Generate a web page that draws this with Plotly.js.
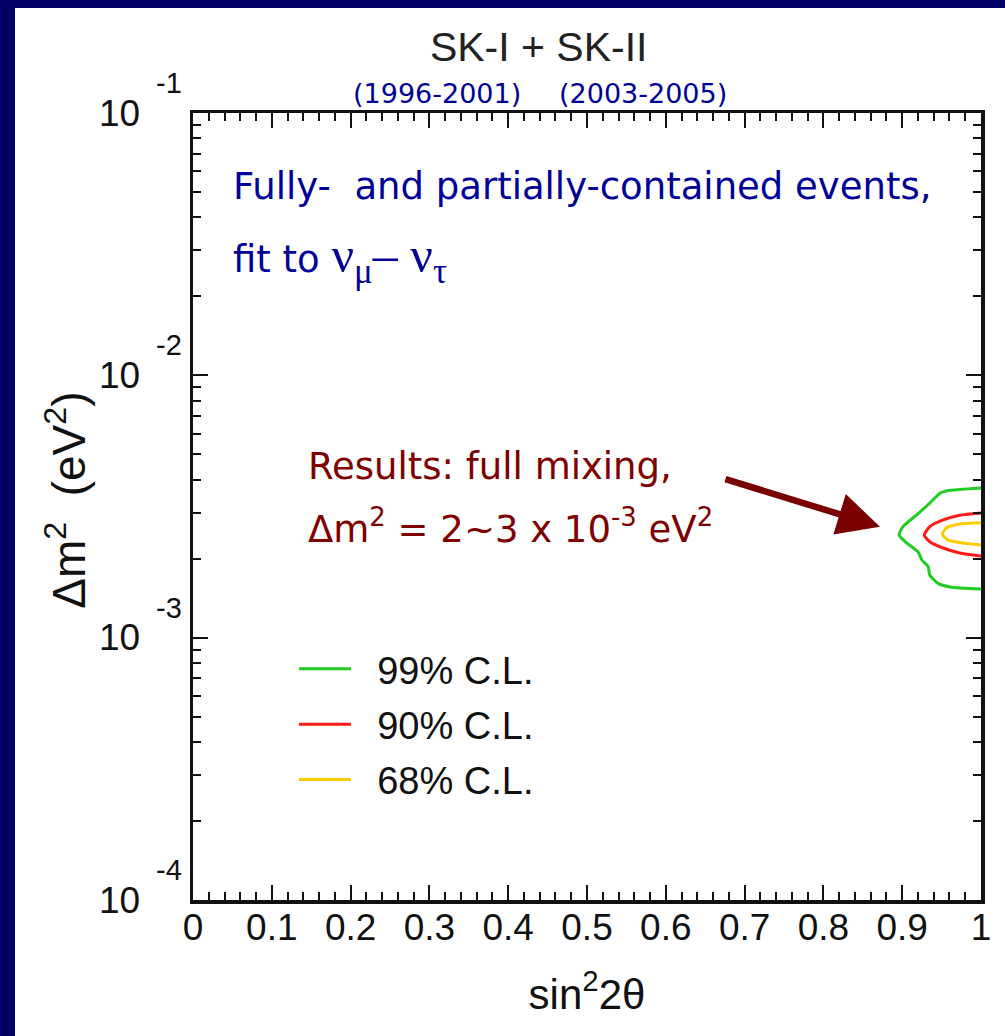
<!DOCTYPE html>
<html>
<head>
<meta charset="utf-8">
<script src="https://cdn.plot.ly/plotly-3.0.1.min.js"></script>
<style>
  html, body { margin: 0; padding: 0; background: #000066; width: 1005px; height: 1036px; overflow: hidden; }
  #chart { position: absolute; left: 15px; top: 8px; width: 990px; height: 1028px; background: #ffffff; }
</style>
</head>
<body>
<div id="chart"></div>
<script>
// ---- data ----
const cl99_x = [1.000, 0.957, 0.948, 0.935, 0.918, 0.901, 0.896, 0.904, 0.920, 0.925, 0.933, 0.935, 0.945, 0.961, 1.000];
const cl99_y = [0.00372, 0.00363, 0.00355, 0.00326, 0.00293, 0.00265, 0.00246, 0.00232, 0.002126, 0.001977, 0.001864, 0.001733, 0.001614, 0.00156, 0.001532];

const cl90_x = [1.000, 0.973, 0.952, 0.935, 0.928, 0.935, 0.952, 0.973, 1.000];
const cl90_y = [0.00299, 0.00293, 0.00281, 0.00265, 0.00246, 0.00232, 0.002197, 0.002102, 0.002047];

const cl68_x = [1.000, 0.973, 0.956, 0.951, 0.958, 0.977, 1.000];
const cl68_y = [0.00274, 0.00271, 0.00262, 0.00248, 0.002355, 0.002294, 0.002254];

const seriesNames = ["99% C.L.", "90% C.L.", "68% C.L."];
const seriesColors = ["#22cc22", "#ff1a1a", "#ffcc00"];

const xTickVals = [0, 0.1, 0.2, 0.3, 0.4, 0.5, 0.6, 0.7, 0.8, 0.9, 1];
const xTickText = ["0", "0.1", "0.2", "0.3", "0.4", "0.5", "0.6", "0.7", "0.8", "0.9", "1"];
const yTickExps = [-4, -3, -2, -1];

const titleText = "SK-I + SK-II";
const periodTexts = ["(1996-2001)", "(2003-2005)"];
const periodX = [0.3096, 0.571];
const noteLines = ["Fully-&nbsp; and partially-contained events,",
  "fit to <span style=\"font-family:'Liberation Serif';font-size:50px\">ν<sub>μ</sub>– ν<sub>τ</sub></span>"];
const resultLines = ["Results: full mixing,", "Δm<sup>2</sup> = 2~3 x 10<sup>-3</sup> eV<sup>2</sup>"];
const arrowTarget = { x: 0.8718, logy: -2.577 };

// ---- traces ----
const xs = [cl99_x, cl90_x, cl68_x];
const ys = [cl99_y, cl90_y, cl68_y];
const traces = xs.map((x, i) => ({
  type: "scatter", mode: "lines", x: x, y: ys[i],
  name: "&nbsp;&nbsp;" + seriesNames[i], legendgroup: "g" + i,
  line: { color: seriesColors[i], width: 3, shape: "spline", smoothing: 0.6 },
  hoverinfo: "skip"
}));

const annotations = [];
yTickExps.forEach(e => {
  annotations.push({ xref: "paper", yref: "y", x: -0.065, y: e, xanchor: "right", yanchor: "middle",
    text: "10", showarrow: false, font: { family: "Liberation Sans", size: 37, color: "#111" } });
  annotations.push({ xref: "paper", yref: "y", x: -0.049, y: e, xanchor: "left", yanchor: "middle", yshift: 30,
    text: String(e), showarrow: false, font: { family: "Liberation Sans", size: 29, color: "#111" } });
});
periodTexts.forEach((t, i) => {
  annotations.push({ xref: "paper", yref: "paper", x: periodX[i], y: 1.0254, xanchor: "center", yanchor: "middle",
    text: t, showarrow: false, font: { family: "DejaVu Sans", size: 27, color: "#000099" } });
});
const noteY = [0.9072, 0.8145];
noteLines.forEach((t, i) => {
  annotations.push({ xref: "paper", yref: "paper", x: 0.048, y: noteY[i], xanchor: "left", yanchor: "middle",
    text: t, showarrow: false, font: { family: "DejaVu Sans", size: 37, color: "#000099" } });
});
const resY = [0.5502, 0.474];
resultLines.forEach((t, i) => {
  annotations.push({ xref: "paper", yref: "paper", x: 0.143, y: resY[i], xanchor: "left", yanchor: "middle",
    text: t, showarrow: false, font: { family: "DejaVu Sans", size: 37, color: "#800000" } });
});
annotations.push({ xref: "x", yref: "y", x: arrowTarget.x, y: arrowTarget.logy, text: "",
  showarrow: true, axref: "pixel", ayref: "pixel", ax: -156, ay: -48,
  arrowcolor: "#7a0000", arrowwidth: 6.5, arrowhead: 2, arrowsize: 1.3, standoff: 0 });

const axisFont = { family: "Liberation Sans", size: 37, color: "#111" };

const layout = {
  width: 990, height: 1028,
  margin: { l: 178, r: 24, t: 105, b: 136 },
  paper_bgcolor: "#ffffff", plot_bgcolor: "#ffffff",
  title: { text: titleText, x: 0.529, xref: "container", xanchor: "center",
    y: 0.962, yref: "container", yanchor: "middle",
    font: { family: "Liberation Sans", size: 41, color: "#222" } },
  xaxis: {
    range: [0, 1], tickmode: "array", tickvals: xTickVals, ticktext: xTickText,
    ticks: "inside", ticklen: 15, tickwidth: 2, tickcolor: "#111",
    minor: { dtick: 0.02, ticks: "inside", ticklen: 8, tickwidth: 2, tickcolor: "#111" },
    showline: true, linewidth: 3.5, linecolor: "#111", mirror: "ticks",
    showgrid: false, zeroline: false, tickfont: axisFont, ticklabelstandoff: -8,
    title: { text: "sin<sup>2</sup>2θ", standoff: 33, font: { family: "Liberation Sans", size: 42, color: "#111" } }
  },
  yaxis: {
    type: "log", range: [-4, -1], tickmode: "array", tickvals: yTickExps.map(e => Math.pow(10, e)),
    showticklabels: false,
    ticks: "inside", ticklen: 15, tickwidth: 2, tickcolor: "#111",
    minor: { dtick: "D1", ticks: "inside", ticklen: 8, tickwidth: 2, tickcolor: "#111" },
    showline: true, linewidth: 3.5, linecolor: "#111", mirror: "ticks",
    showgrid: false, zeroline: false,
    title: { text: "&nbsp;Δm<sup>2</sup>&nbsp; (eV<sup>2</sup>)", standoff: 90, font: { family: "Liberation Sans", size: 46, color: "#111" } }
  },
  showlegend: true,
  legend: {
    x: 0.1282, y: 0.3335, xanchor: "left", yanchor: "top",
    bgcolor: "rgba(0,0,0,0)", borderwidth: 0,
    font: { family: "Liberation Sans", size: 38, color: "#111" },
    traceorder: "grouped", tracegroupgap: 3, itemwidth: 52
  },
  annotations: annotations
};

Plotly.newPlot("chart", traces, layout, { displayModeBar: false, staticPlot: true });
</script>
</body>
</html>
